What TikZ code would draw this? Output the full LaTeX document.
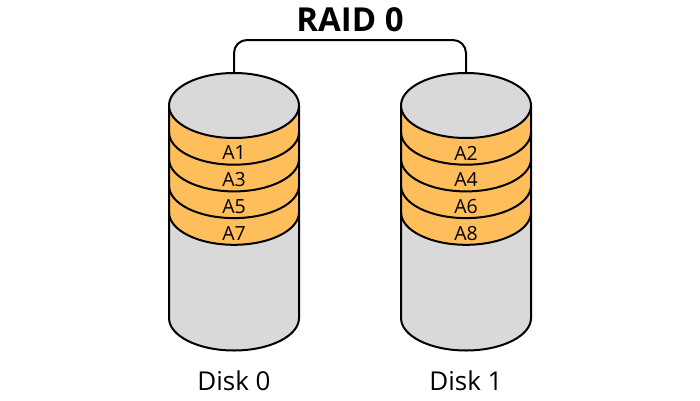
\documentclass[tikz,border=0pt]{standalone}
\usepackage{fontspec}
\setmainfont{Open Sans}
\definecolor{bandfill}{RGB}{255,190,92}
\definecolor{diskfill}{RGB}{217,217,217}
\tikzset{
  outline/.style={draw=black, line width=2pt},
  blocklabel/.style={font=\fontsize{19.5}{19.5}\selectfont, inner sep=0pt},
  disklabel/.style={font=\fontsize{26}{26}\selectfont, inner sep=0pt},
  titlelabel/.style={font=\fontsize{33}{33}\selectfont\bfseries, inner sep=0pt},
  conn/.style={draw=black, line width=2pt, rounded corners=13pt},
  diskpic/.pic={
    % body
    \path[fill=diskfill] (-65,0) -- (-65,-212.5)
      arc[start angle=180, end angle=360, x radius=65, y radius=32.5] -- (65,0) -- cycle;
    % orange blocks
    \path[fill=bandfill] (-65,0) -- (-65,-106.8)
      arc[start angle=180, end angle=360, x radius=65, y radius=32.5] -- (65,0) -- cycle;
    \foreach \yy in {-26.7,-53.4,-80.1,-106.8}
      \draw[outline] (-65,\yy) arc[start angle=180, end angle=360, x radius=65, y radius=32.5];
    % body outline
    \draw[outline, line join=round] (-65,0) -- (-65,-212.5)
      arc[start angle=180, end angle=360, x radius=65, y radius=32.5] -- (65,0);
    % top
    \draw[outline, fill=diskfill] (0,0) ellipse[x radius=65, y radius=32.5];
  }
}
\begin{document}
\begin{tikzpicture}[x=1pt, y=1pt]
\useasboundingbox (0,0) rectangle (700,400);
\fill[white] (0,0) rectangle (700,400);

\pic at (234,294.5) {diskpic};
\pic at (466,294.5) {diskpic};

\coordinate (d0top) at (234,327);
\coordinate (d1top) at (466,327);
\coordinate (bridge) at (350,360);
\draw[conn] (d0top) |- (bridge) -| (d1top);

\node[titlelabel] (title) at (350,380.5) {RAID 0};

\node[blocklabel] (a1) at (234,247) {A1};
\node[blocklabel] (a3) at (234,220.3) {A3};
\node[blocklabel] (a5) at (234,193.6) {A5};
\node[blocklabel] (a7) at (234,166.9) {A7};
\node[blocklabel] (a2) at (466,247) {A2};
\node[blocklabel] (a4) at (466,220.3) {A4};
\node[blocklabel] (a6) at (466,193.6) {A6};
\node[blocklabel] (a8) at (466,166.9) {A8};

\node[disklabel] (disk0) at (234,19) {Disk 0};
\node[disklabel] (disk1) at (466,19) {Disk 1};
\end{tikzpicture}
\end{document}
